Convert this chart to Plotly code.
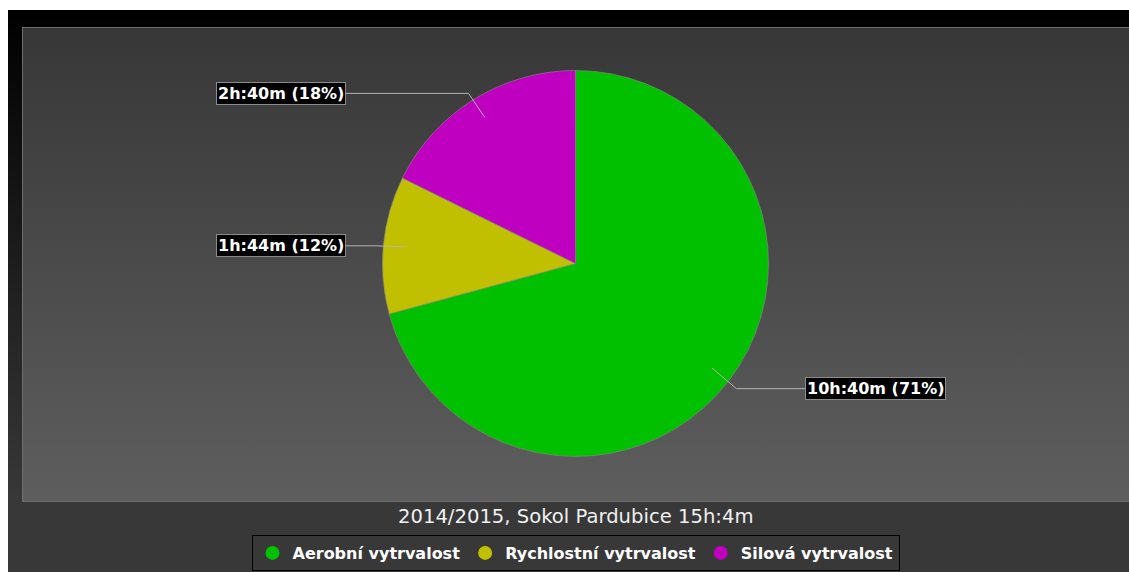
import base64, math
import plotly.graph_objects as go

# ---- data ----
categories = ["Aerobní vytrvalost", "Rychlostní vytrvalost", "Silová vytrvalost"]
minutes = [640, 104, 160]
slice_labels = ["10h:40m (71%)", "1h:44m (12%)", "2h:40m (18%)"]
colors = ["#00c000", "#c0c000", "#c000c0"]
title_text = "2014/2015, Sokol Pardubice 15h:4m"

W, H = 1129, 572
CX, CY, R = 575.5, 263.5, 193.0  # pie centre / radius in pixels


def px(x):
    return x / W


def py(y):
    return 1 - y / H


# ---- background (gradient image) ----
svg = f'''<svg xmlns="http://www.w3.org/2000/svg" width="{W}" height="{H}" viewBox="0 0 {W} {H}" preserveAspectRatio="none">
<defs>
<linearGradient id="o" gradientUnits="userSpaceOnUse" x1="0" y1="10" x2="0" y2="502">
<stop offset="0" stop-color="#000000"/><stop offset="1" stop-color="#383838"/></linearGradient>
<linearGradient id="p" gradientUnits="userSpaceOnUse" x1="0" y1="27" x2="0" y2="501">
<stop offset="0" stop-color="#373737"/><stop offset="1" stop-color="#5e5e5e"/></linearGradient>
</defs>
<rect x="0" y="0" width="{W}" height="{H}" fill="#ffffff"/>
<rect x="8" y="10" width="{W}" height="{H}" fill="url(#o)"/>
<rect x="22.5" y="27.5" width="{W}" height="474" fill="url(#p)" stroke="#6e6e6e" stroke-width="1"/>
</svg>'''
bg_src = "data:image/svg+xml;base64," + base64.b64encode(svg.encode()).decode()

fig = go.Figure()

fig.add_trace(go.Pie(
    labels=categories,
    values=minutes,
    marker=dict(colors=colors, line=dict(color="#8a8a8a", width=0.6)),
    sort=False,
    direction="clockwise",
    rotation=0,
    textinfo="none",
    showlegend=False,
    domain=dict(x=[px(CX - R), px(CX + R)], y=[py(CY + R), py(CY - R)]),
    hovertemplate="%{label}<br>%{value} min<extra></extra>",
))

# legend entries with round markers
for name, col in zip(categories, colors):
    fig.add_trace(go.Scatter(
        x=[None], y=[None], mode="markers", name=name,
        marker=dict(symbol="circle", size=14, color=col),
        hoverinfo="skip",
    ))

# ---- leader lines and boxed labels, computed from the slice angles ----
total = sum(minutes)
annotations = []
shapes = []
cum = 0
for val, lab in zip(minutes, slice_labels):
    mid = (cum + val / 2) / total * 2 * math.pi
    cum += val
    s, c = math.sin(mid), math.cos(mid)
    x1, y1 = CX + 0.89 * R * s, CY - 0.89 * R * c
    x2, y2 = CX + 1.05 * R * s, CY - 1.05 * R * c + 2
    side = 1 if s >= 0 else -1
    x3 = CX + side * 1.19 * R
    shapes.append(dict(
        type="path", xref="paper", yref="paper",
        path=f"M {px(x1)} {py(y1)} L {px(x2)} {py(y2)} L {px(x3)} {py(y2)}",
        line=dict(color="#b4b4b4", width=1), layer="above",
    ))
    annotations.append(dict(
        x=px(x3), y=py(y2), xref="paper", yref="paper",
        xanchor="left" if side > 0 else "right", yanchor="middle",
        text=lab, showarrow=False,
        font=dict(family="DejaVu Sans", size=16, color="#ffffff", weight="bold"),
        bgcolor="#000000", bordercolor="#8c8c8c", borderwidth=1, borderpad=1,
    ))

annotations.append(dict(
    x=px(CX), y=py(516), xref="paper", yref="paper",
    xanchor="center", yanchor="middle", text=title_text, showarrow=False,
    font=dict(family="DejaVu Sans", size=19.6, color="#f0f0f0"),
))

fig.update_layout(
    width=W, height=H,
    margin=dict(l=0, r=0, t=0, b=0),
    paper_bgcolor="#ffffff",
    plot_bgcolor="rgba(0,0,0,0)",
    xaxis=dict(visible=False, domain=[0, 0.01]),
    yaxis=dict(visible=False, domain=[0, 0.01]),
    images=[dict(source=bg_src, xref="paper", yref="paper", x=0, y=1,
                 sizex=1, sizey=1, xanchor="left", yanchor="top",
                 sizing="stretch", layer="below")],
    shapes=shapes,
    annotations=annotations,
    showlegend=True,
    legend=dict(
        orientation="h", x=px(CX), xanchor="center", y=py(535), yanchor="top",
        bgcolor="rgba(0,0,0,0)", bordercolor="#000000", borderwidth=1,
        font=dict(family="DejaVu Sans", size=16, color="#ffffff", weight="bold"),
        itemwidth=30, tracegroupgap=0,
    ),
    hovermode="closest",
)

fig.write_html("out.html")
